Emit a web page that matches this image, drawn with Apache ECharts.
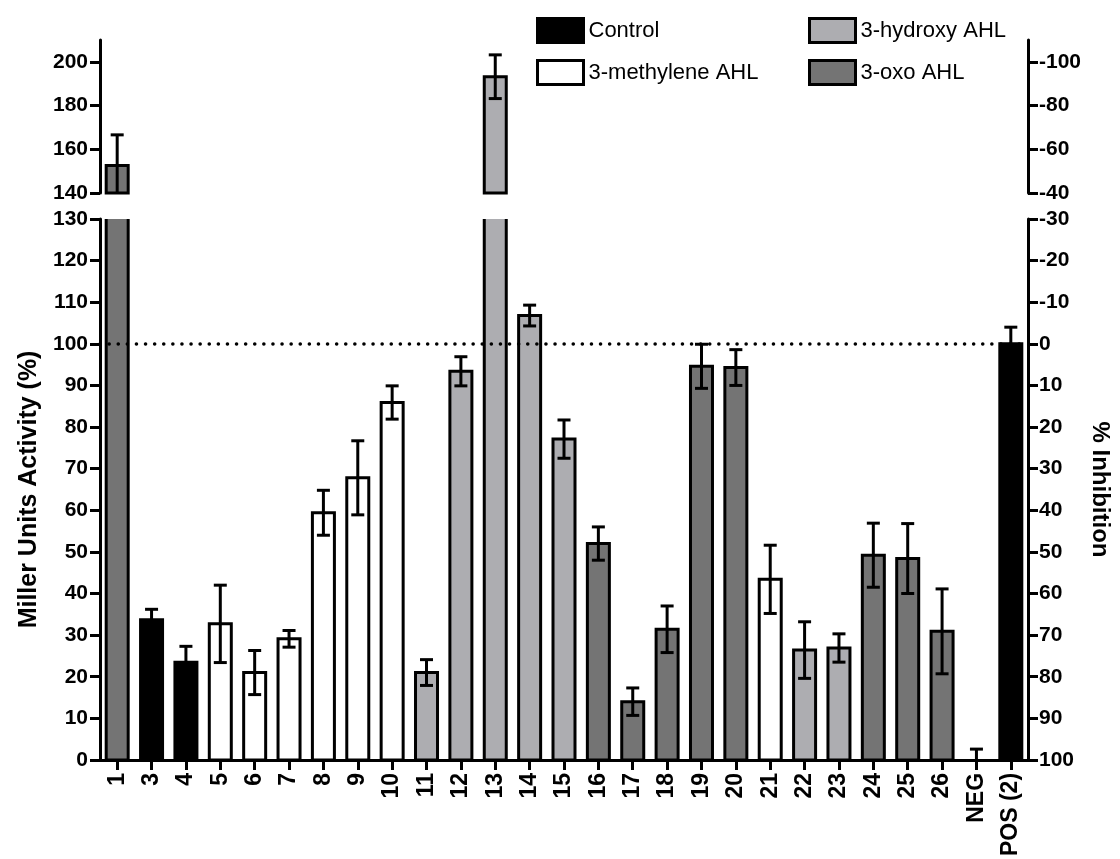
<!DOCTYPE html>
<html>
<head>
<meta charset="utf-8">
<script src="https://cdn.jsdelivr.net/npm/echarts@6/dist/echarts.min.js"></script>
<style>
  html, body { margin: 0; padding: 0; background: #fff; }
  #chart { width: 1120px; height: 859px; }
</style>
</head>
<body>
<div id="chart"></div>
<script>
// Compounds tested (x-axis categories)
const categories = ['1', '3', '4', '5', '6', '7', '8', '9', '10', '11', '12', '13', '14',
  '15', '16', '17', '18', '19', '20', '21', '22', '23', '24', '25', '26', 'NEG', 'POS (2)'];

// Mean activity (Miller units, % of positive control) and error
const activity = [152.6, 33.7, 23.5, 32.7, 21.0, 29.1, 59.4, 67.8, 85.9, 21.0, 93.4, 193.2, 106.8,
  77.1, 52.0, 14.0, 31.4, 94.6, 94.3, 43.4, 26.4, 26.9, 49.2, 48.4, 30.9, 0, 100];
const errors = [14.0, 2.5, 3.8, 9.3, 5.3, 2.0, 5.4, 8.9, 4.0, 3.1, 3.5, 10.0, 2.5,
  4.6, 4.0, 3.3, 5.6, 5.3, 4.3, 8.2, 6.8, 3.4, 7.7, 8.4, 10.2, 2.6, 4.0];

// Compound class of every category
const compoundClass = ['3-oxo AHL', 'Control', 'Control',
  '3-methylene AHL', '3-methylene AHL', '3-methylene AHL', '3-methylene AHL', '3-methylene AHL', '3-methylene AHL',
  '3-hydroxy AHL', '3-hydroxy AHL', '3-hydroxy AHL', '3-hydroxy AHL', '3-hydroxy AHL',
  '3-oxo AHL', '3-oxo AHL', '3-oxo AHL', '3-oxo AHL', '3-oxo AHL',
  '3-methylene AHL', '3-hydroxy AHL', '3-hydroxy AHL',
  '3-oxo AHL', '3-oxo AHL', '3-oxo AHL', 'NEG', 'Control'];

const legendLeft = ['Control', '3-methylene AHL'];
const legendRight = ['3-hydroxy AHL', '3-oxo AHL'];

// Tick values for the broken axis (upper and lower panels)
const activityTicksUpper = [140, 160, 180, 200];
const activityTicksLower = [0, 10, 20, 30, 40, 50, 60, 70, 80, 90, 100, 110, 120, 130];
const inhibitionTicksUpper = [-40, -60, -80, -100];
const inhibitionTicksLower = [100, 90, 80, 70, 60, 50, 40, 30, 20, 10, 0, -10, -20, -30];

const referenceLevel = 100;

// ---- styling ----
const FONT = '"Liberation Sans", Arial, Helvetica, sans-serif';
const fills = {
  'Control': '#000000',
  '3-methylene AHL': '#ffffff',
  '3-hydroxy AHL': '#adadb1',
  '3-oxo AHL': '#747474',
  'NEG': '#ffffff'
};
const BAR_W = 22;
const CAP_W = 13;
const LW = 3;

const upperRange = [140, 210];
const lowerRange = [0, 130];

function makeRenderer(yLow, yHigh, fill) {
  return function (params, api) {
    const idx = api.value(0);
    const v = api.value(1);
    const e = api.value(2);
    const half = BAR_W / 2;
    const base = api.coord([idx, yLow]);
    const cx = base[0];
    const yBase = base[1];
    const children = [];
    if (v > yLow) {
      const capped = v > yHigh;
      const yTop = api.coord([idx, Math.min(v, yHigh)])[1];
      if (capped) {
        children.push({
          type: 'rect',
          shape: { x: cx - half, y: yTop, width: BAR_W, height: yBase - yTop },
          style: { fill: fill, stroke: null }
        });
        children.push({
          type: 'polyline',
          shape: { points: [[cx - half, yTop], [cx - half, yBase], [cx + half, yBase], [cx + half, yTop]] },
          style: { fill: null, stroke: '#000', lineWidth: LW, lineJoin: 'miter' }
        });
      } else {
        children.push({
          type: 'rect',
          shape: { x: cx - half, y: yTop, width: BAR_W, height: yBase - yTop },
          style: { fill: fill, stroke: '#000', lineWidth: LW, lineJoin: 'miter' }
        });
      }
    }
    // error bar, clipped to the panel
    const lo = v - e, hi = v + e;
    const a = Math.max(lo, yLow), b = Math.min(hi, yHigh);
    if (b > a) {
      const pa = api.coord([idx, a])[1];
      const pb = api.coord([idx, b])[1];
      children.push({
        type: 'line',
        shape: { x1: cx, y1: pa, x2: cx, y2: pb },
        style: { stroke: '#000', lineWidth: LW }
      });
      if (hi <= yHigh) {
        const ph = api.coord([idx, hi])[1];
        children.push({
          type: 'line',
          shape: { x1: cx - CAP_W / 2, y1: ph, x2: cx + CAP_W / 2, y2: ph },
          style: { stroke: '#000', lineWidth: LW }
        });
      }
      if (lo >= yLow) {
        const pl = api.coord([idx, lo])[1];
        children.push({
          type: 'line',
          shape: { x1: cx - CAP_W / 2, y1: pl, x2: cx + CAP_W / 2, y2: pl },
          style: { stroke: '#000', lineWidth: LW }
        });
      }
    }
    return { type: 'group', children: children };
  };
}

const groupNames = ['Control', '3-methylene AHL', '3-hydroxy AHL', '3-oxo AHL', 'NEG'];
const series = [];

// dotted reference line at 100 %
series.push({
  type: 'line',
  xAxisIndex: 1,
  yAxisIndex: 1,
  data: [],
  z: 1,
  silent: true,
  markLine: {
    silent: true,
    symbol: ['none', 'none'],
    label: { show: false },
    lineStyle: { color: '#000', width: 3.5, type: [0.1, 9], cap: 'round' },
    data: [{ yAxis: referenceLevel }]
  }
});

groupNames.forEach(function (g) {
  const data = [];
  categories.forEach(function (c, i) {
    if (compoundClass[i] === g) data.push([i, activity[i], errors[i]]);
  });
  [[0, upperRange], [1, lowerRange]].forEach(function (p) {
    series.push({
      name: g,
      type: 'custom',
      coordinateSystem: 'cartesian2d',
      xAxisIndex: p[0],
      yAxisIndex: p[0],
      z: 3,
      itemStyle: { color: fills[g], borderColor: '#000', borderWidth: LW },
      encode: { x: 0, y: 1 },
      data: data,
      renderItem: makeRenderer(p[1][0], p[1][1], fills[g])
    });
  });
});

function legendItems(names) {
  return names.map(function (n) {
    return {
      name: n,
      icon: 'rect',
      itemStyle: { color: fills[n], borderColor: '#000', borderWidth: 3 }
    };
  });
}

const legendCommon = {
  orient: 'vertical',
  top: 12,
  itemWidth: 46,
  itemHeight: 24,
  itemGap: 15,
  selectedMode: false,
  textStyle: { fontFamily: FONT, fontSize: 22, color: '#000' }
};

const axisLine = { show: true, lineStyle: { color: '#000', width: LW } };
const axisTick = { show: true, length: 10, lineStyle: { color: '#000', width: LW } };
const labelStyle = { fontFamily: FONT, fontSize: 21, fontWeight: 'bold', color: '#000' };

const option = {
  backgroundColor: '#fff',
  animation: false,
  legend: [
    Object.assign({ left: 531, data: legendItems(legendLeft) }, legendCommon),
    Object.assign({ left: 803, data: legendItems(legendRight) }, legendCommon)
  ],
  grid: [
    { left: 100, right: 92, top: 40, height: 153 },
    { left: 100, right: 92, top: 219, bottom: 98 }
  ],
  xAxis: [
    {
      type: 'category', gridIndex: 0, data: categories,
      axisLine: { show: false }, axisTick: { show: false }, axisLabel: { show: false }
    },
    {
      type: 'category', gridIndex: 1, data: categories,
      axisLine: axisLine,
      axisTick: Object.assign({ alignWithLabel: true }, axisTick),
      axisLabel: Object.assign({}, labelStyle, { rotate: 90, margin: 13, interval: 0, fontSize: 23 })
    }
  ],
  yAxis: [
    {
      type: 'value', gridIndex: 0, position: 'left',
      min: upperRange[0], max: upperRange[1], interval: 20,
      axisLine: axisLine,
      axisTick: Object.assign({ customValues: activityTicksUpper }, axisTick),
      axisLabel: Object.assign({ customValues: activityTicksUpper, margin: 12 }, labelStyle),
      splitLine: { show: false }
    },
    {
      type: 'value', gridIndex: 1, position: 'left',
      min: lowerRange[0], max: lowerRange[1], interval: 10,
      name: 'Miller Units Activity (%)',
      nameLocation: 'middle', nameGap: 58,
      nameTextStyle: { fontFamily: FONT, fontSize: 25, fontWeight: 'bold', color: '#000' },
      axisLine: axisLine,
      axisTick: Object.assign({ customValues: activityTicksLower }, axisTick),
      axisLabel: Object.assign({ customValues: activityTicksLower, margin: 12 }, labelStyle),
      splitLine: { show: false }
    },
    {
      type: 'value', gridIndex: 0, position: 'right', inverse: true,
      min: -110, max: -40, interval: 20,
      axisLine: axisLine,
      axisTick: Object.assign({ customValues: inhibitionTicksUpper }, axisTick),
      axisLabel: Object.assign({ customValues: inhibitionTicksUpper, margin: 11 }, labelStyle),
      splitLine: { show: false }
    },
    {
      type: 'value', gridIndex: 1, position: 'right', inverse: true,
      min: -30, max: 100, interval: 10,
      name: '% Inhibition',
      nameLocation: 'middle', nameGap: 60, nameRotate: -90,
      nameTextStyle: { fontFamily: FONT, fontSize: 24, fontWeight: 'bold', color: '#000' },
      axisLine: axisLine,
      axisTick: Object.assign({ customValues: inhibitionTicksLower }, axisTick),
      axisLabel: Object.assign({ customValues: inhibitionTicksLower, margin: 11 }, labelStyle),
      splitLine: { show: false }
    }
  ],
  series: series
};

const chart = echarts.init(document.getElementById('chart'), null, { renderer: 'canvas' });
chart.setOption(option);
</script>
</body>
</html>
